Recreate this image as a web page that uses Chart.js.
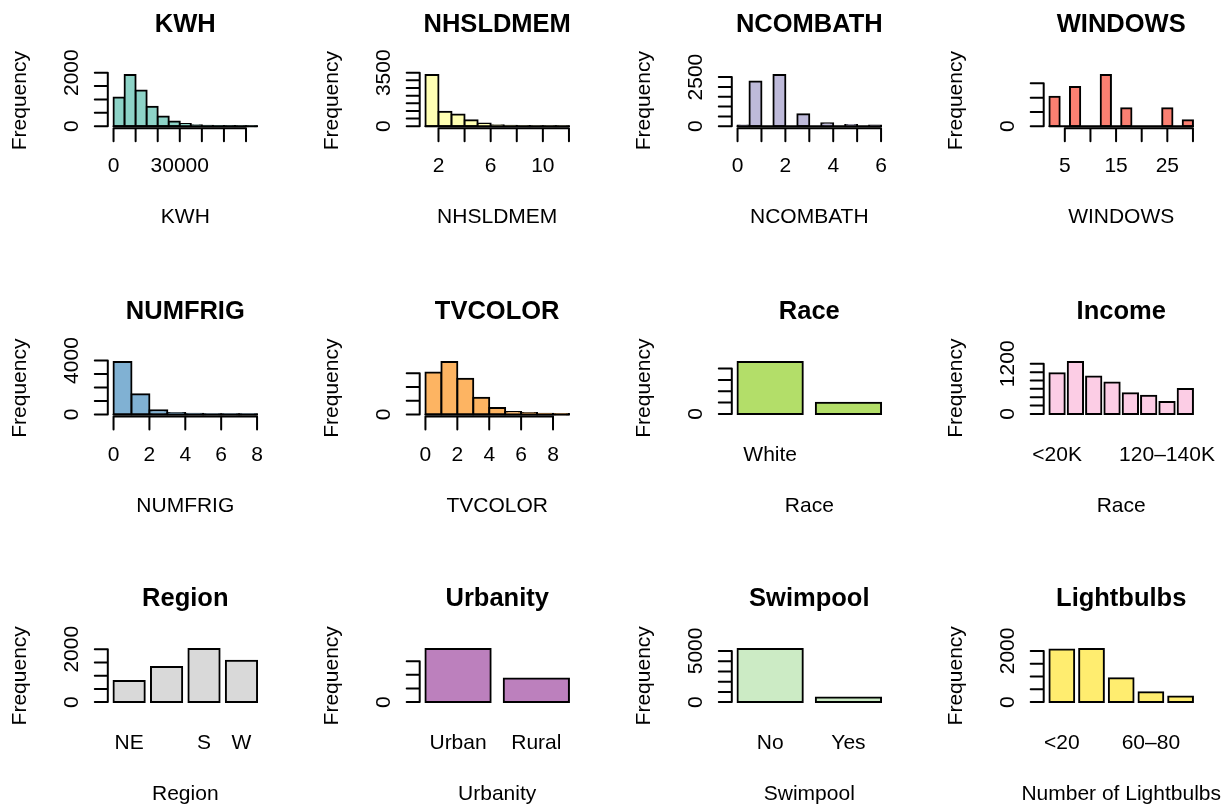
<!DOCTYPE html>
<html><head><meta charset="utf-8">
<script src="https://cdn.jsdelivr.net/npm/chart.js@4.4.1/dist/chart.umd.min.js"></script>
<style>
html,body{margin:0;padding:0;background:#fff;width:1227px;height:807px;overflow:hidden}
canvas{position:absolute;left:0;top:0}
</style></head><body>
<script>
// ---------- DATA ----------
const kwhBreaks = [0,5000,10000,15000,20000,25000,30000,35000,40000,45000,50000,55000,60000,65000];
const kwhCounts = [1075,1912,1337,725,362,175,87,40,20,10,5,3,2];
const kwhXTicks = [0,10000,20000,30000,40000,50000,60000];
const kwhXTickLabels = ['0','','','30000','','',''];
const kwhYTicks = [0,500,1000,1500,2000];
const kwhYTickLabels = ['0','','','','2000'];

const hhBreaks = [1,2,3,4,5,6,7,8,9,10,11,12];
const hhCounts = [3347,940,766,394,175,66,30,15,8,4,2];
const hhXTicks = [2,4,6,8,10,12];
const hhXTickLabels = ['2','','6','','10',''];
const hhYTicks = [0,500,1000,1500,2000,2500,3000,3500];
const hhYTickLabels = ['0','','','','','','','3500'];

const bathBreaks = [0,0.5,1,1.5,2,2.5,3,3.5,4,4.5,5,5.5,6];
const bathCounts = [40,2279,0,2602,0,612,0,153,0,68,0,34];
const bathXTicks = [0,1,2,3,4,5,6];
const bathXTickLabels = ['0','','2','','4','','6'];
const bathYTicks = [0,500,1000,1500,2000,2500];
const bathYTickLabels = ['0','','','','','2500'];

const winBreaks = [2,4,6,8,10,12,14,16,18,20,22,24,26,28,30];
const winCounts = [1030,0,1370,0,0,1790,0,630,0,0,0,630,0,210];
const winXTicks = [5,10,15,20,25,30];
const winXTickLabels = ['5','','15','','25',''];
const winYTicks = [0,500,1000,1500];
const winYTickLabels = ['0','','',''];

const frigBreaks = [0,1,2,3,4,5,6,7,8];
const frigCounts = [3899,1494,304,100,40,20,10,5];
const frigXTicks = [0,2,4,6,8];
const frigXTickLabels = ['0','2','4','6','8'];
const frigYTicks = [0,1000,2000,3000,4000];
const frigYTickLabels = ['0','','','','4000'];

const tvBreaks = [0,1,2,3,4,5,6,7,8,9];
const tvCounts = [1525,1910,1300,610,235,85,50,25,15];
const tvXTicks = [0,2,4,6,8];
const tvXTickLabels = ['0','2','4','6','8'];
const tvYTicks = [0,500,1000,1500];
const tvYTickLabels = ['0','','',''];

const raceCategories = ['White','Other'];
const raceCounts = [4590,990];
const raceTickLabels = ['White',''];
const raceYTicks = [0,1000,2000,3000,4000];
const raceYTickLabels = ['0','','','',''];

const incomeCategories = ['<20K','20–40K','40–60K','60–80K','80–100K','100–120K','120–140K','>140K'];
const incomeCounts = [975,1245,893,750,495,435,285,593];
const incomeTickLabels = ['<20K','','','','','','120–140K',''];
const incomeYTicks = [0,200,400,600,800,1000,1200];
const incomeYTickLabels = ['0','','','','','','1200'];

const regionCategories = ['NE','MW','S','W'];
const regionCounts = [795,1329,2012,1565];
const regionTickLabels = ['NE','','S','W'];
const regionYTicks = [0,500,1000,1500,2000];
const regionYTickLabels = ['0','','','','2000'];

const urbanCategories = ['Urban','Rural'];
const urbanCounts = [3900,1740];
const urbanTickLabels = ['Urban','Rural'];
const urbanYTicks = [0,1000,2000,3000];
const urbanYTickLabels = ['0','','',''];

const poolCategories = ['No','Yes'];
const poolCounts = [5190,450];
const poolTickLabels = ['No','Yes'];
const poolYTicks = [0,1000,2000,3000,4000,5000];
const poolYTickLabels = ['0','','','','','5000'];

const bulbCategories = ['<20','20–40','40–60','60–80','>80'];
const bulbCounts = [2051,2077,936,385,218];
const bulbTickLabels = ['<20','','','60–80',''];
const bulbYTicks = [0,500,1000,1500,2000];
const bulbYTickLabels = ['0','','','','2000'];

// ---------- PANELS ----------
const panels = [
  {kind:'hist', title:'KWH', xlab:'KWH', color:'#8DD3C7', breaks:kwhBreaks, counts:kwhCounts, xTicks:kwhXTicks, xTickLabels:kwhXTickLabels, yTicks:kwhYTicks, yTickLabels:kwhYTickLabels},
  {kind:'hist', title:'NHSLDMEM', xlab:'NHSLDMEM', color:'#FFFFB3', breaks:hhBreaks, counts:hhCounts, xTicks:hhXTicks, xTickLabels:hhXTickLabels, yTicks:hhYTicks, yTickLabels:hhYTickLabels},
  {kind:'hist', title:'NCOMBATH', xlab:'NCOMBATH', color:'#BEBADA', breaks:bathBreaks, counts:bathCounts, xTicks:bathXTicks, xTickLabels:bathXTickLabels, yTicks:bathYTicks, yTickLabels:bathYTickLabels},
  {kind:'hist', title:'WINDOWS', xlab:'WINDOWS', color:'#FB8072', breaks:winBreaks, counts:winCounts, xTicks:winXTicks, xTickLabels:winXTickLabels, yTicks:winYTicks, yTickLabels:winYTickLabels},
  {kind:'hist', title:'NUMFRIG', xlab:'NUMFRIG', color:'#80B1D3', breaks:frigBreaks, counts:frigCounts, xTicks:frigXTicks, xTickLabels:frigXTickLabels, yTicks:frigYTicks, yTickLabels:frigYTickLabels},
  {kind:'hist', title:'TVCOLOR', xlab:'TVCOLOR', color:'#FDB462', breaks:tvBreaks, counts:tvCounts, xTicks:tvXTicks, xTickLabels:tvXTickLabels, yTicks:tvYTicks, yTickLabels:tvYTickLabels},
  {kind:'bar', title:'Race', xlab:'Race', color:'#B3DE69', categories:raceCategories, counts:raceCounts, tickLabels:raceTickLabels, yTicks:raceYTicks, yTickLabels:raceYTickLabels},
  {kind:'bar', title:'Income', xlab:'Race', color:'#FCCDE5', categories:incomeCategories, counts:incomeCounts, tickLabels:incomeTickLabels, yTicks:incomeYTicks, yTickLabels:incomeYTickLabels},
  {kind:'bar', title:'Region', xlab:'Region', color:'#D9D9D9', categories:regionCategories, counts:regionCounts, tickLabels:regionTickLabels, yTicks:regionYTicks, yTickLabels:regionYTickLabels},
  {kind:'bar', title:'Urbanity', xlab:'Urbanity', color:'#BC80BD', categories:urbanCategories, counts:urbanCounts, tickLabels:urbanTickLabels, yTicks:urbanYTicks, yTickLabels:urbanYTickLabels},
  {kind:'bar', title:'Swimpool', xlab:'Swimpool', color:'#CCEBC5', categories:poolCategories, counts:poolCounts, tickLabels:poolTickLabels, yTicks:poolYTicks, yTickLabels:poolYTickLabels},
  {kind:'bar', title:'Lightbulbs', xlab:'Number of Lightbulbs', color:'#FFED6F', categories:bulbCategories, counts:bulbCounts, tickLabels:bulbTickLabels, yTicks:bulbYTicks, yTickLabels:bulbYTickLabels}
];

// ---------- LAYOUT ----------
const W = 1227, H = 807;
const colLeft = [107.8, 419.7, 731.8, 1043.7];
const plotW = 155;
const rowTop = [73, 359.8, 646.8];
const rowBottom = [128.3, 416.5, 704.8];
const FONT = '"Liberation Sans", Arial, Helvetica, sans-serif';

// map a value on a histogram's measurement axis through the category scale
function histPx(xs, p, v) {
  const c0 = xs.getPixelForValue(0), c1 = xs.getPixelForValue(1);
  const bw = p.breaks[1] - p.breaks[0];
  return c0 + ((v - p.breaks[0]) / bw - 0.5) * (c1 - c0);
}

function makePlugin(p, reg, idx) {
  return {
    id: 'rpanel' + idx,
    afterDraw(chart) {
      const ctx = chart.ctx;
      const ys = chart.scales.y;
      const xs = chart.scales.x;
      const {L, R, T, B} = reg;
      ctx.save();
      ctx.fillStyle = '#000';
      ctx.strokeStyle = '#000';
      ctx.lineWidth = 2;
      ctx.lineCap = 'round';
      ctx.font = '21px ' + FONT;
      ctx.textAlign = 'center';
      ctx.textBaseline = 'alphabetic';
      if (p.kind === 'hist') {
        const y0 = ys.getPixelForValue(0);
        ctx.beginPath();
        ctx.moveTo(histPx(xs, p, p.breaks[0]), y0);
        ctx.lineTo(histPx(xs, p, p.breaks[p.breaks.length - 1]), y0);
        ctx.stroke();
        const xt = p.xTicks;
        ctx.beginPath();
        ctx.moveTo(histPx(xs, p, xt[0]), B);
        ctx.lineTo(histPx(xs, p, xt[xt.length - 1]), B);
        xt.forEach(t => {
          const px = histPx(xs, p, t);
          ctx.moveTo(px, B); ctx.lineTo(px, B + 13);
        });
        ctx.stroke();
        xt.forEach((t, i) => {
          if (p.xTickLabels[i]) ctx.fillText(p.xTickLabels[i], histPx(xs, p, t), B + 44);
        });
      } else {
        p.tickLabels.forEach((lab, i) => {
          if (lab) ctx.fillText(lab, xs.getPixelForValue(i), B + 44);
        });
      }
      // y axis
      const yt = p.yTicks;
      ctx.beginPath();
      ctx.moveTo(L, ys.getPixelForValue(yt[0]));
      ctx.lineTo(L, ys.getPixelForValue(yt[yt.length - 1]));
      yt.forEach(t => {
        const py = ys.getPixelForValue(t);
        ctx.moveTo(L, py); ctx.lineTo(L - 13, py);
      });
      ctx.stroke();
      yt.forEach((t, i) => {
        if (!p.yTickLabels[i]) return;
        ctx.save();
        ctx.translate(L - 30, ys.getPixelForValue(t));
        ctx.rotate(-Math.PI / 2);
        ctx.fillText(p.yTickLabels[i], 0, 0);
        ctx.restore();
      });
      // y label
      ctx.save();
      ctx.translate(L - 81.5, (T + B) / 2);
      ctx.rotate(-Math.PI / 2);
      ctx.fillText('Frequency', 0, 0);
      ctx.restore();
      // x label
      ctx.fillText(p.xlab, (L + R) / 2, B + 95);
      // title
      ctx.font = 'bold 25.5px ' + FONT;
      ctx.fillText(p.title, (L + R) / 2, T - 41.3);
      ctx.restore();
    }
  };
}

panels.forEach((p, idx) => {
  const col = idx % 4, row = Math.floor(idx / 4);
  const L = colLeft[col], R = L + plotW, T = rowTop[row], B = rowBottom[row];
  const n = p.counts.length;
  let inset, catPct, labels;
  if (p.kind === 'hist') {
    inset = plotW * 0.04 / 1.08;
    catPct = 1;
    labels = p.counts.map((c, i) => p.breaks[i] + '–' + p.breaks[i + 1]);
  } else {
    const s = 1.2 * n - 0.2;
    inset = plotW * (0.04 * s - 0.1) / (1.08 * s);
    catPct = 1 / 1.2;
    labels = p.categories;
  }
  const mx = Math.max(...p.counts);
  let yMin, yMax;
  if (p.kind === 'hist') {
    yMin = -0.04 * mx; yMax = 1.04 * mx;
  } else {
    const lo = -0.01 * mx, span = mx - lo;
    yMin = lo - 0.04 * span; yMax = mx + 0.04 * span;
  }
  const cv = document.createElement('canvas');
  cv.width = W; cv.height = H;
  cv.style.width = W + 'px'; cv.style.height = H + 'px';
  document.body.appendChild(cv);
  new Chart(cv, {
    type: 'bar',
    data: {
      labels,
      datasets: [{
        data: p.counts,
        backgroundColor: p.color,
        borderColor: '#000',
        borderWidth: 2,
        borderSkipped: false,
        inflateAmount: 1,
        categoryPercentage: catPct,
        barPercentage: 1,
        clip: false
      }]
    },
    options: {
      responsive: false,
      animation: false,
      events: [],
      devicePixelRatio: 1,
      layout: {padding: {left: L + inset, right: W - (R - inset), top: T, bottom: H - B}},
      plugins: {legend: {display: false}, tooltip: {enabled: false}, title: {display: false}},
      scales: {
        x: {type: 'category', offset: true, display: false},
        y: {type: 'linear', min: yMin, max: yMax, display: false}
      }
    },
    plugins: [makePlugin(p, {L, R, T, B}, idx)]
  });
});
</script>
</body></html>
